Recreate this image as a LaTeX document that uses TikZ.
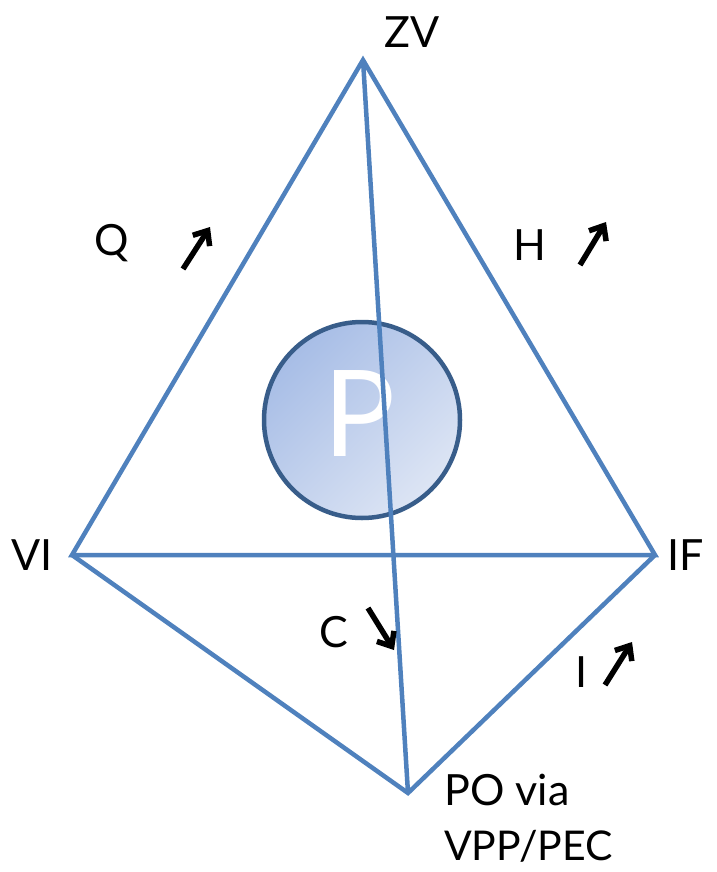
\documentclass[tikz,border=0pt]{standalone}
\usepackage{fontspec}
\setmainfont{Lato}
\usetikzlibrary{arrows.meta}
\definecolor{edgeblue}{HTML}{4F81BD}
\definecolor{ringblue}{HTML}{385D8A}
\definecolor{fillA}{HTML}{A7BDE6}
\definecolor{fillB}{HTML}{DDE5F4}
\begin{document}
\begin{tikzpicture}[x=1pt, y=-1pt,
  edge/.style={edgeblue, line width=4.5pt},
  lbl/.style={font=\fontsize{43}{50}\selectfont, inner sep=0pt},
  trend/.style={black, line width=5.5pt, -{Straight Barb[length=12pt, width=20pt, line width=5.5pt]}}]
\useasboundingbox (0,0) rectangle (716,872);
\coordinate (zv) at (363,60);
\coordinate (vi) at (72,555);
\coordinate (if) at (655,555);
\coordinate (po) at (408,793);
\draw[edge, line join=miter] (vi) -- (zv) -- (if) -- cycle;
\draw[edge, line join=miter] (vi) -- (po) -- (if);
\shade[left color=fillA, right color=fillB, shading angle=45] (362,420) circle (98);
\node[draw=ringblue, line width=4.5pt, circle, minimum size=196pt, inner sep=0pt] (p) at (362,420) {};
\node[lbl, white, font=\fontsize{120}{120}\selectfont] at (360,414) {P};
\draw[edge] (zv) -- (po);
\node[lbl] (zvl) at (412,32) {ZV};
\node[lbl] (vil) at (32,555) {VI};
\node[lbl] (ifl) at (686,555) {IF};
\node[lbl, anchor=west] (pol) at (444,790) {PO via};
\node[lbl, anchor=west, font=\fontsize{41}{48}\selectfont] (vppl) at (444,846) {VPP/PEC};
\node[lbl] (ql) at (112,243) {Q};
\node[lbl] (hl) at (530,245) {H};
\node[lbl] (cl) at (334,632) {C};
\node[lbl] (il) at (582,672) {I};
\draw[trend] (183,269) -- (210,227);
\draw[trend] (580,265) -- (606,222);
\draw[trend] (368,608) -- (394,650);
\draw[trend] (605,685) -- (632,642);
\end{tikzpicture}
\end{document}
